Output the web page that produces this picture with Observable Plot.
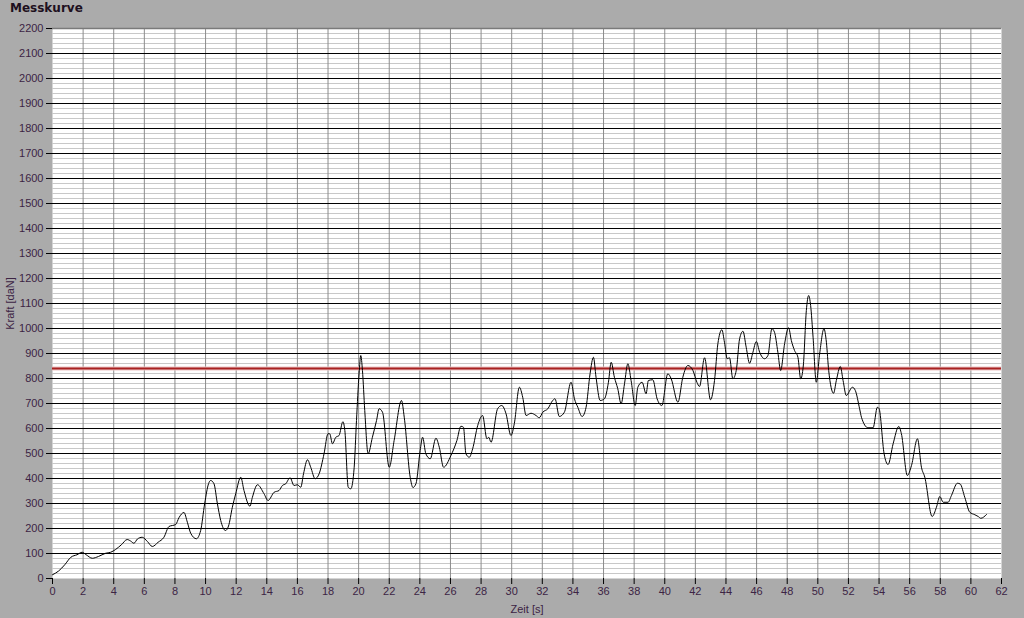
<!DOCTYPE html>
<html>
<head>
<meta charset="utf-8">
<script src="https://cdn.jsdelivr.net/npm/d3@7"></script>
<script src="https://cdn.jsdelivr.net/npm/@observablehq/plot@0.6"></script>
<style>
  html, body { margin: 0; padding: 0; background: #ababab; width: 1024px; height: 618px; overflow: hidden; }
  #wrap { position: relative; width: 1024px; height: 618px; }
  #title { position: absolute; left: 10px; top: 1px; font: bold 12px "DejaVu Sans", sans-serif; color: #1e1020; }
  svg { display: block; }
</style>
</head>
<body>
<div id="wrap">
  <div id="title">Messkurve</div>
  <div id="chart"></div>
</div>
<script>
const timeS = [0,0.4,0.8,1.2,1.6,1.94,2.2,2.6,3.0,3.47,3.8,4.12,4.5,4.88,5.1,5.32,5.55,5.86,6.2,6.52,6.9,7.28,7.61,8.05,8.26,8.59,8.81,9.03,9.4,9.68,9.94,10.2,10.33,10.55,10.77,10.99,11.3,11.5,11.75,11.97,12.3,12.51,12.9,13.06,13.39,13.82,14.08,14.48,14.8,15.02,15.24,15.52,15.78,16.0,16.22,16.4,16.66,16.87,17.16,17.42,17.74,18.0,18.11,18.29,18.51,18.72,18.97,19.1,19.32,19.49,19.71,19.86,20.03,20.14,20.25,20.4,20.62,20.9,21.17,21.34,21.56,22.0,22.32,22.8,22.98,23.37,23.55,23.75,24.02,24.18,24.39,24.68,25.05,25.27,25.55,26.03,26.42,26.68,26.85,27.01,27.23,27.45,27.78,28.1,28.38,28.5,28.65,29.08,29.35,29.63,29.95,30.17,30.5,30.72,30.94,31.26,31.59,31.8,32.03,32.36,32.68,32.83,33.11,33.44,33.88,34.1,34.32,34.6,34.86,35.12,35.34,35.51,35.78,36.06,36.32,36.5,36.71,36.93,37.15,37.37,37.59,37.8,38.07,38.24,38.52,38.78,38.93,39.22,39.5,39.81,40.2,40.42,40.86,41.18,41.51,41.84,42.1,42.27,42.6,42.99,43.25,43.47,43.73,43.9,44.08,44.23,44.45,44.67,44.89,45.11,45.32,45.54,45.76,45.98,46.2,46.52,46.74,47.0,47.17,47.39,47.57,47.83,48.09,48.27,48.48,48.7,48.88,49.05,49.25,49.4,49.53,49.69,49.9,50.12,50.4,50.56,50.71,51.03,51.21,51.47,51.65,51.86,52.26,52.45,52.73,52.85,53.28,53.61,53.89,54.0,54.33,54.59,54.92,55.29,55.46,55.85,56.12,56.51,56.77,56.99,57.47,57.75,57.97,58.19,58.51,58.73,59.12,59.3,59.6,59.93,60.26,60.48,60.65,61.02];
const forceDaN = [15,30,55,85,95,105,95,81,88,101,105,116,135,156,150,141,158,165,148,128,145,165,208,216,243,264,225,181,159,192,299,380,392,379,300,232,192,210,285,339,405,352,289,325,375,339,312,345,352,372,379,403,372,375,365,419,475,445,399,419,499,579,579,539,565,572,627,592,365,359,445,632,819,892,832,672,499,565,632,679,665,445,552,712,645,405,364,380,512,565,499,479,561,525,445,492,552,609,605,499,485,519,612,652,559,565,545,679,692,659,572,619,765,725,652,661,652,643,665,679,712,719,648,665,785,719,685,648,685,819,885,805,712,719,785,865,805,759,699,779,859,792,692,765,785,739,792,795,719,692,819,799,705,805,852,832,785,768,883,715,792,939,995,945,879,883,799,832,959,989,925,861,905,948,905,879,892,999,985,905,832,939,1003,952,912,885,799,850,1072,1132,1092,965,785,899,999,945,832,741,792,848,792,732,765,752,679,645,603,603,685,680,499,456,539,608,579,412,452,559,445,405,248,285,328,305,305,332,381,378,325,265,255,248,241,256];
const limitDaN = [840];
const xTicks = [0,2,4,6,8,10,12,14,16,18,20,22,24,26,28,30,32,34,36,38,40,42,44,46,48,50,52,54,56,58,60,62];
const yTicks = [0,100,200,300,400,500,600,700,800,900,1000,1100,1200,1300,1400,1500,1600,1700,1800,1900,2000,2100,2200];

const data = timeS.map((t, i) => ({t, v: forceDaN[i]}));
const xGrid = xTicks.filter(d => d > 0 && d < 62);
const yMajor = yTicks.filter(d => d > 0 && d < 2200);
const yMinor = d3.range(20, 2200, 20).filter(d => d % 100 !== 0);

const labelColor = "#3c2444";

const chart = Plot.plot({
  width: 1024,
  height: 618,
  marginLeft: 52,
  marginRight: 23,
  marginTop: 28,
  marginBottom: 40,
  style: {background: "transparent", fontFamily: "'Liberation Sans', sans-serif", fontSize: "11px", color: labelColor},
  x: {domain: [0, 62]},
  y: {domain: [0, 2200]},
  marks: [
    Plot.frame({fill: "white", stroke: null}),
    Plot.ruleY(yMinor, {stroke: "#c8c8c8", strokeWidth: 1}),
    Plot.ruleX(xGrid, {stroke: "#8c8c8c", strokeWidth: 1}),
    Plot.ruleY(yMajor, {stroke: "#000000", strokeWidth: 1}),
    Plot.ruleY([2200], {stroke: "#7a7a7a", strokeWidth: 1.5}),
    Plot.ruleY(limitDaN, {stroke: "#ecc4c4", strokeWidth: 4}),
    Plot.ruleY(limitDaN, {stroke: "#a82222", strokeWidth: 2}),
    Plot.line(data, {x: "t", y: "v", stroke: "#000000", strokeWidth: 1, curve: "monotone-x"}),
    Plot.axisX({ticks: xTicks, tickSize: 6, tickPadding: 3, stroke: "#000", fill: labelColor, tickFormat: d => String(d),
      label: "Zeit [s]", labelAnchor: "center", labelArrow: "none", labelOffset: 34}),
    Plot.axisY({ticks: yTicks, tickSize: 6, tickPadding: 3, stroke: "#000", fill: labelColor, tickFormat: d => String(d),
      label: "Kraft [daN]", labelAnchor: "center", labelArrow: "none", labelOffset: 46})
  ]
});
document.getElementById("chart").appendChild(chart);
</script>
</body>
</html>
